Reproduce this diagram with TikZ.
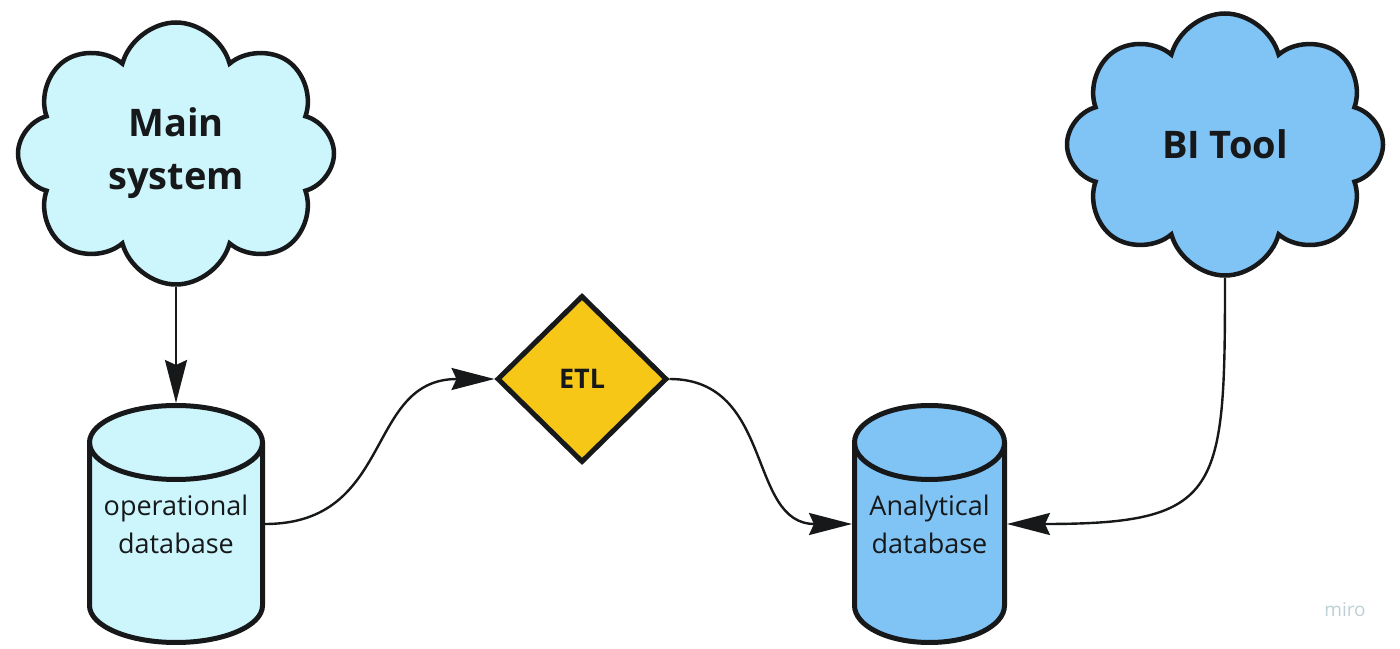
\documentclass[tikz,border=0pt]{standalone}
\usepackage{fontspec}
\setmainfont{Open Sans}
\usetikzlibrary{shapes.symbols,shapes.geometric,arrows.meta}
\definecolor{lightcyan}{RGB}{205,245,252}
\definecolor{skyblue}{RGB}{128,195,245}
\definecolor{etlyellow}{RGB}{247,199,24}
\definecolor{ink}{RGB}{22,24,26}
\definecolor{mirogray}{RGB}{190,208,214}
\begin{document}
\begin{tikzpicture}[x=1pt,y=1pt,
  cloudbox/.style={cloud, cloud puffs=8, cloud puff arc=150, cloud ignores aspect,
    draw=ink, line width=4.5pt, inner sep=0pt, align=center,
    font=\bfseries\fontsize{38}{53}\selectfont, text=ink},
  dbnode/.style={rectangle, draw=none, inner sep=0pt, outer sep=0pt, align=center,
    font=\fontsize{27}{38}\selectfont, text=ink},
  dbline/.style={draw=ink, line width=5pt},
  etlbox/.style={diamond, draw=ink, line width=5pt, fill=etlyellow, inner sep=0pt,
    font=\bfseries\fontsize{27}{32}\selectfont, text=ink},
  link/.style={draw=ink, line width=2.4pt, -{Stealth[length=43pt,width=22pt,inset=5pt]}}
]
\useasboundingbox (0,0) rectangle (1400,648);
\fill[white] (0,0) rectangle (1400,648);

% clouds
\node[cloudbox, fill=lightcyan, minimum width=316pt, minimum height=262pt] (main) at (176,494.5) {Main\\system};
\node[cloudbox, fill=skyblue, minimum width=316pt, minimum height=262pt] (bi) at (1225,503.5) {BI Tool};

% operational database cylinder
\fill[lightcyan] (89.5,205.5) -- (89.5,42.5) arc[start angle=180,end angle=360,x radius=86.5,y radius=37] -- (262.5,205.5) arc[start angle=0,end angle=180,x radius=86.5,y radius=37] -- cycle;
\draw[dbline] (89.5,205.5) -- (89.5,42.5) arc[start angle=180,end angle=360,x radius=86.5,y radius=37] -- (262.5,205.5);
\draw[dbline] (176,205.5) ellipse[x radius=86.5,y radius=37];
\node[dbnode, minimum width=178pt, minimum height=242pt] (opdb) at (176,124) {operational\\database};

% analytical database cylinder
\fill[skyblue] (854.5,205.5) -- (854.5,42.5) arc[start angle=180,end angle=360,x radius=75,y radius=37] -- (1004.5,205.5) arc[start angle=0,end angle=180,x radius=75,y radius=37] -- cycle;
\draw[dbline] (854.5,205.5) -- (854.5,42.5) arc[start angle=180,end angle=360,x radius=75,y radius=37] -- (1004.5,205.5);
\draw[dbline] (929.5,205.5) ellipse[x radius=75,y radius=37];
\node[dbnode, minimum width=155pt, minimum height=242pt] (andb) at (929.5,124) {Analytical\\database};

% ETL
\node[etlbox, minimum width=170pt, minimum height=167pt] (etl) at (582,269) {ETL};

% connectors
\draw[link] (main.south) -- (main.south |- opdb.north);
\draw[link] (opdb.east) to[out=0,in=180,out distance=130pt,in distance=130pt] (etl.west);
\draw[link] (etl.east) to[out=0,in=180,out distance=105pt,in distance=105pt] (andb.west);
\draw[link] (bi.south) to[out=-90,in=0,out distance=215pt,in distance=215pt] (andb.east);

% watermark
\node[text=mirogray, font=\fontsize{19}{20}\selectfont] (miro) at (1345,38) {miro};
\end{tikzpicture}
\end{document}
